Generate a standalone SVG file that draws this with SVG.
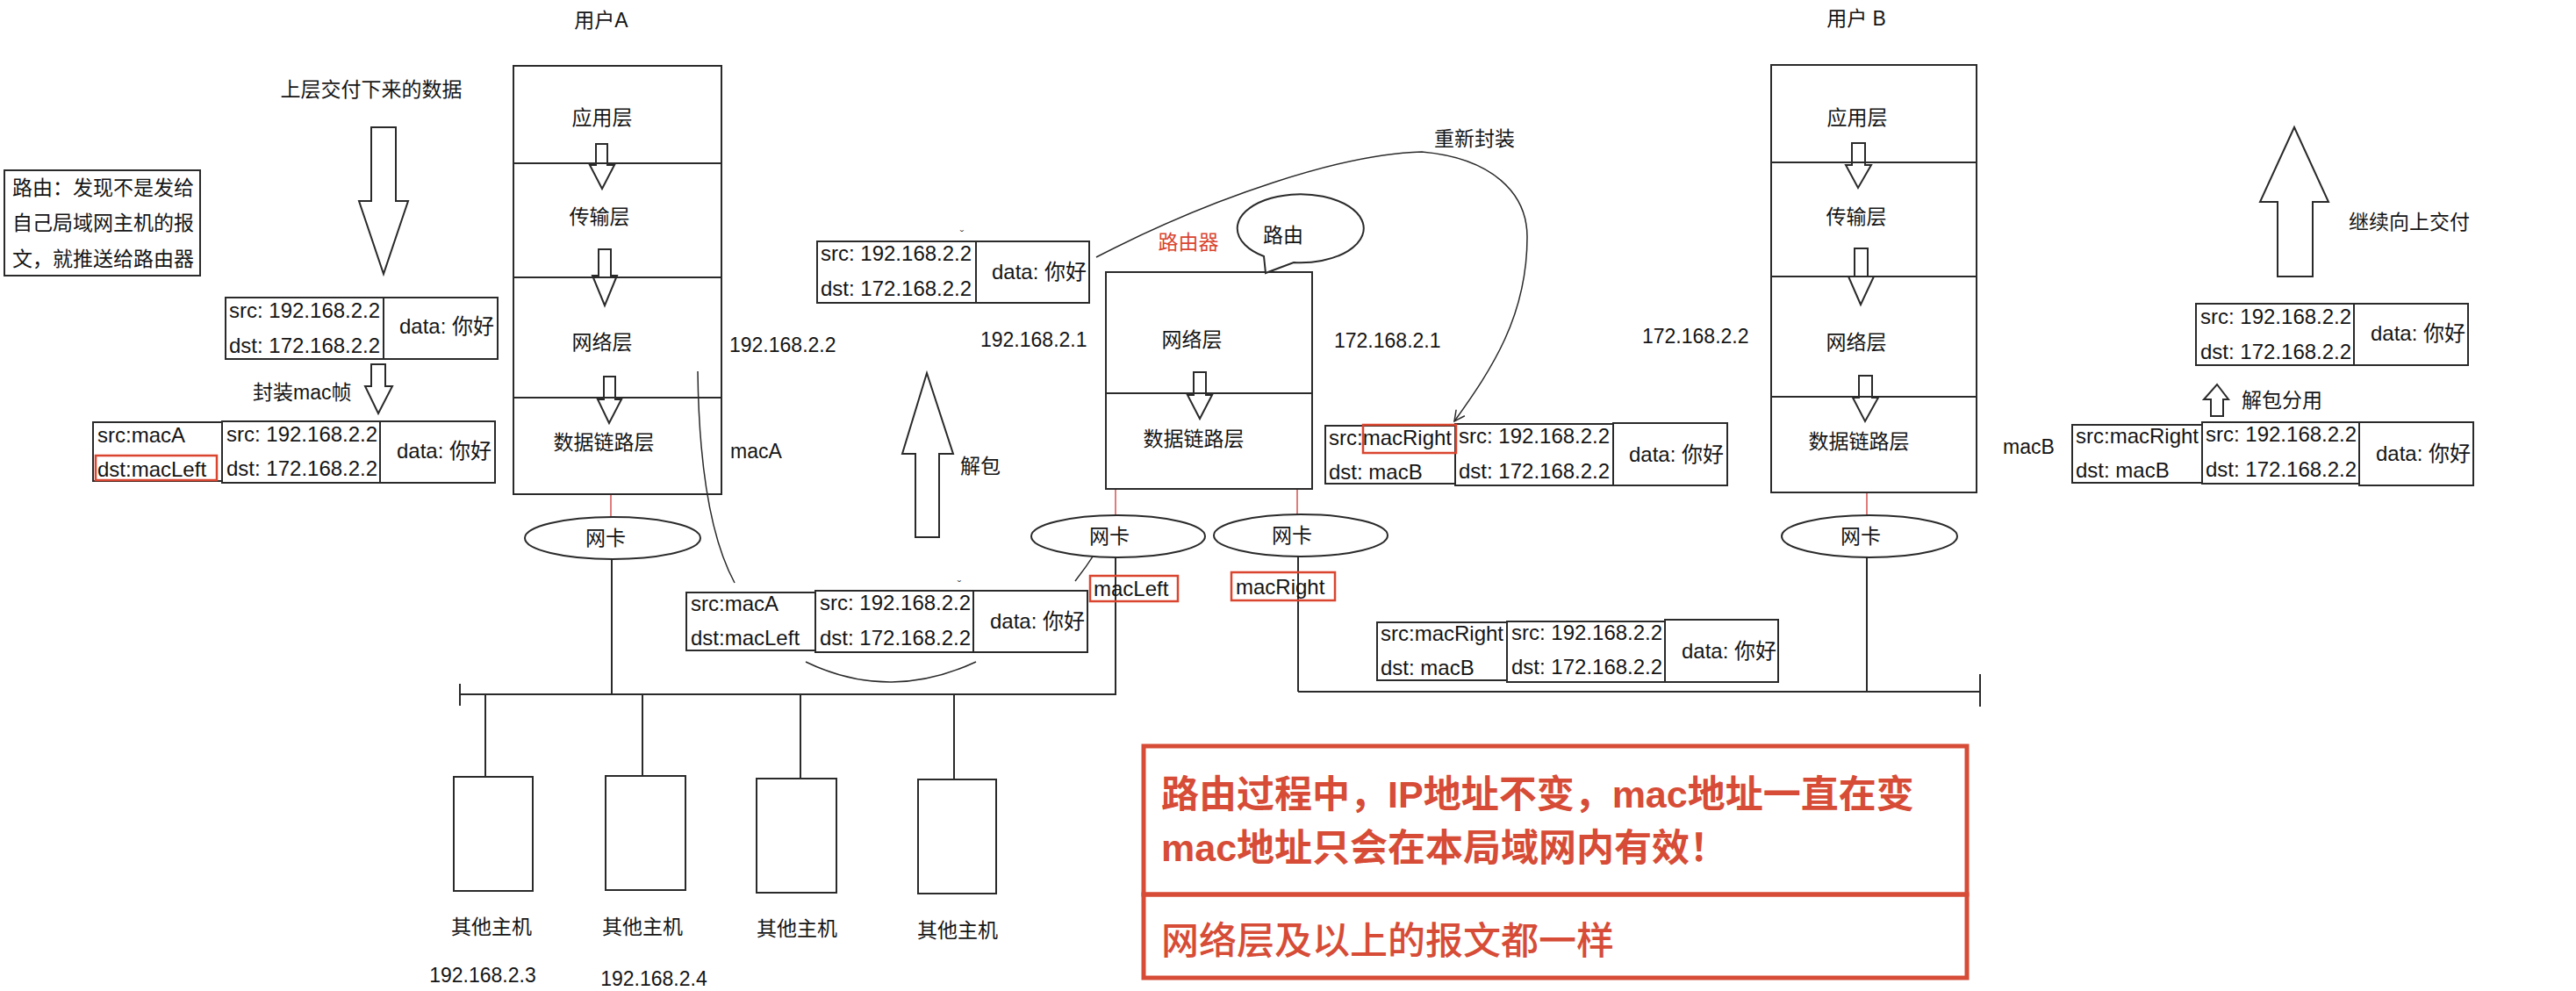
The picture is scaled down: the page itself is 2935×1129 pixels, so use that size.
<svg xmlns="http://www.w3.org/2000/svg" width="2935" height="1129" viewBox="0 0 2935 1129">
<style>
text{font-family:"Liberation Sans","Noto Sans CJK SC",sans-serif;font-size:23px;fill:#151515}
.p{font-size:24px}
.m{text-anchor:middle}
.b{fill:#fff;stroke:#2a2a2a;stroke-width:2}
.n{fill:none;stroke:#2a2a2a;stroke-width:2}
.thin{fill:none;stroke:#2a2a2a;stroke-width:1.5}
.rl{stroke:#d65050;stroke-width:1.5;fill:none}
.rb{fill:none;stroke:#d9452f;stroke-width:2.5}
.rr{fill:none;stroke:#d64c36;stroke-width:5}
.rt{fill:#d9452f}
.big{font-size:43px;fill:#d64c36}
.tiny{font-size:13px;fill:#444}
</style>
<defs>
<marker id="ah" viewBox="-14 -8 16 16" refX="0" refY="0" markerWidth="16" markerHeight="16" markerUnits="userSpaceOnUse" orient="auto">
<path d="M-12,-6 L0,0 L-12,6" fill="none" stroke="#2a2a2a" stroke-width="1.5"/>
</marker>
</defs>
<rect width="2935" height="1129" fill="#fff"/>

<g id="connectors">
<line class="rl" x1="696" y1="563" x2="696" y2="589"/>
<line class="rl" x1="1271" y1="557" x2="1271" y2="587"/>
<line class="rl" x1="1478" y1="557" x2="1478" y2="586"/>
<line class="rl" x1="2127" y1="561" x2="2127" y2="587"/>
<line class="n" x1="697" y1="637" x2="697" y2="791"/>
<line class="n" x1="1271" y1="635" x2="1271" y2="792"/>
<line class="n" x1="1479" y1="634" x2="1479" y2="788"/>
<line class="n" x1="2127" y1="635" x2="2127" y2="788"/>
<line class="n" x1="524" y1="791" x2="1271" y2="791"/>
<line class="n" x1="524" y1="779" x2="524" y2="804"/>
<line class="n" x1="1479" y1="788" x2="2256" y2="788"/>
<line class="n" x1="2256" y1="768" x2="2256" y2="805"/>
<line class="n" x1="553" y1="791" x2="553" y2="885"/>
<line class="n" x1="732" y1="791" x2="732" y2="884"/>
<line class="n" x1="912" y1="791" x2="912" y2="887"/>
<line class="n" x1="1087" y1="791" x2="1087" y2="888"/>
<path class="thin" d="M795,423 Q797,590 837,664"/>
<path class="thin" d="M918,754 Q1013,800 1112,754"/>
<path class="thin" d="M1225,662 Q1250,630 1272,589" marker-end="url(#ah)"/>
<path class="thin" d="M1249,293 C1380,225 1530,175 1620,173 C1700,180 1740,220 1740,270 C1740,360 1700,420 1657,480" marker-end="url(#ah)"/>
</g>

<g id="userA">
<text class="m" x="685" y="31">用户A</text>
<rect class="n" x="585" y="75" width="237" height="488"/>
<path class="n" d="M679,164 H692 V188 H700 L686,215 L672,188 H679 Z"/>
<path class="n" d="M682,284 H696 V314 H703 L689,348 L675,314 H682 Z"/>
<path class="n" d="M688,429 H701 V455 H708 L694,482 L681,455 H688 Z"/>
<line class="n" x1="585" y1="186" x2="822" y2="186"/>
<line class="n" x1="585" y1="316" x2="822" y2="316"/>
<line class="n" x1="585" y1="453" x2="822" y2="453"/>
<text class="m" x="686" y="142">应用层</text>
<text class="m" x="683" y="255">传输层</text>
<text class="m" x="686" y="398">网络层</text>
<text class="m" x="688" y="512">数据链路层</text>
<text x="831" y="401">192.168.2.2</text>
<text x="832" y="522">macA</text>
</g>

<g id="nicA">
<ellipse class="b" cx="698" cy="613" rx="100" ry="24"/>
<text class="m" x="690" y="621">网卡</text>
</g>

<g id="userB">
<text class="m" x="2115" y="29">用户 B</text>
<rect class="n" x="2018" y="74" width="234" height="487"/>
<path class="n" d="M2110,163 H2125 V188 H2132 L2117,214 L2103,188 H2110 Z"/>
<path class="n" d="M2113,283 H2128 V315 H2135 L2120,347 L2106,315 H2113 Z"/>
<path class="n" d="M2118,428 H2133 V453 H2140 L2125,480 L2111,453 H2118 Z"/>
<line class="n" x1="2018" y1="185" x2="2252" y2="185"/>
<line class="n" x1="2018" y1="315" x2="2252" y2="315"/>
<line class="n" x1="2018" y1="452" x2="2252" y2="452"/>
<text class="m" x="2116" y="142">应用层</text>
<text class="m" x="2115" y="255">传输层</text>
<text class="m" x="2115" y="398">网络层</text>
<text class="m" x="2118" y="511">数据链路层</text>
<text x="1871" y="391">172.168.2.2</text>
<text x="2282" y="517">macB</text>
</g>

<g id="nicB">
<ellipse class="b" cx="2130" cy="611" rx="100" ry="24"/>
<text class="m" x="2120" y="619">网卡</text>
</g>

<g id="router">
<text class="m rt" x="1354" y="284">路由器</text>
<rect class="n" x="1260" y="310" width="235" height="247"/>
<path class="n" d="M1360,424 H1374 V450 H1381 L1367,477 L1353,450 H1360 Z"/>
<line class="n" x1="1260" y1="448" x2="1495" y2="448"/>
<text class="m" x="1358" y="395">网络层</text>
<text class="m" x="1360" y="508">数据链路层</text>
<text x="1117" y="395">192.168.2.1</text>
<text x="1520" y="396">172.168.2.1</text>
</g>

<g id="bubble">
<path class="b" d="M1440,292 A72,39 0 1 1 1474,299 L1442,311 Z"/>
<text class="m" x="1462" y="276">路由</text>
</g>

<g id="nicRL">
<ellipse class="b" cx="1274" cy="611" rx="99" ry="24"/>
<text class="m" x="1264" y="619">网卡</text>
</g>
<g id="nicRR">
<ellipse class="b" cx="1482" cy="610" rx="99" ry="24"/>
<text class="m" x="1472" y="618">网卡</text>
</g>

<g id="macLeftLabel">
<rect class="rb" x="1242" y="656" width="100" height="29"/>
<text class="p" x="1246" y="679">macLeft</text>
</g>
<g id="macRightLabel">
<rect class="rb" x="1403" y="652" width="118" height="32"/>
<text class="p" x="1408" y="677">macRight</text>
</g>

<g id="note">
<rect class="n" x="5" y="194" width="223" height="120"/>
<text x="14" y="222">路由：发现不是发给</text>
<text x="14" y="262">自己局域网主机的报</text>
<text x="14" y="303">文，就推送给路由器</text>
</g>

<g id="downArrow">
<text class="m" x="423" y="110">上层交付下来的数据</text>
<path class="n" d="M423,145 H451 V229 H465 L437,312 L409,229 H423 Z"/>
</g>

<g id="packetA">
<rect class="n" x="257" y="339" width="180" height="70"/>
<rect class="n" x="437" y="339" width="130" height="70"/>
<text class="p" x="261" y="362">src: 192.168.2.2</text>
<text class="p" x="261" y="402">dst: 172.168.2.2</text>
<text class="p" x="455" y="380">data: 你好</text>
</g>

<g id="encapArrow">
<path class="n" d="M423,415 H439 V440 H447 L431,471 L416,440 H423 Z"/>
<text x="288" y="455">封装mac帧</text>
</g>

<g id="frameA">
<rect class="n" x="106" y="481" width="147" height="67"/>
<rect class="n" x="253" y="480" width="180" height="70"/>
<rect class="n" x="433" y="480" width="131" height="70"/>
<rect class="rb" x="109" y="519" width="138" height="28"/>
<text class="p" x="111" y="504">src:macA</text>
<text class="p" x="111" y="543">dst:macLeft</text>
<text class="p" x="258" y="503">src: 192.168.2.2</text>
<text class="p" x="258" y="542">dst: 172.168.2.2</text>
<text class="p" x="452" y="522">data: 你好</text>
</g>

<g id="packetR">
<text class="tiny m" x="1096" y="272">ˇ</text>
<rect class="n" x="931" y="275" width="181" height="70"/>
<rect class="n" x="1112" y="275" width="129" height="70"/>
<text class="p" x="935" y="297">src: 192.168.2.2</text>
<text class="p" x="935" y="337">dst: 172.168.2.2</text>
<text class="p" x="1130" y="318">data: 你好</text>
</g>

<g id="unpackArrow">
<path class="n" d="M1043,612 H1070 V517 H1086 L1056,425 L1028,517 H1043 Z"/>
<text x="1094" y="539">解包</text>
</g>

<g id="frameMid">
<text class="tiny m" x="1093" y="671">ˇ</text>
<rect class="n" x="782" y="675" width="147" height="66"/>
<rect class="n" x="929" y="673" width="180" height="70"/>
<rect class="n" x="1109" y="673" width="130" height="70"/>
<text class="p" x="787" y="696">src:macA</text>
<text class="p" x="787" y="735">dst:macLeft</text>
<text class="p" x="934" y="695">src: 192.168.2.2</text>
<text class="p" x="934" y="735">dst: 172.168.2.2</text>
<text class="p" x="1128" y="716">data: 你好</text>
</g>

<g id="frameRouterOut">
<text class="m" x="1680" y="166">重新封装</text>
<rect class="n" x="1510" y="485" width="148" height="66"/>
<rect class="n" x="1658" y="483" width="180" height="70"/>
<rect class="n" x="1838" y="482" width="130" height="71"/>
<rect class="rb" x="1553" y="484" width="106" height="32"/>
<text class="p" x="1514" y="507">src:macRight</text>
<text class="p" x="1514" y="546">dst: macB</text>
<text class="p" x="1662" y="505">src: 192.168.2.2</text>
<text class="p" x="1662" y="545">dst: 172.168.2.2</text>
<text class="p" x="1856" y="526">data: 你好</text>
</g>

<g id="frameBus">
<rect class="n" x="1569" y="709" width="148" height="66"/>
<rect class="n" x="1717" y="708" width="180" height="69"/>
<rect class="n" x="1897" y="706" width="129" height="71"/>
<text class="p" x="1573" y="730">src:macRight</text>
<text class="p" x="1573" y="769">dst: macB</text>
<text class="p" x="1722" y="729">src: 192.168.2.2</text>
<text class="p" x="1722" y="768">dst: 172.168.2.2</text>
<text class="p" x="1916" y="750">data: 你好</text>
</g>

<g id="frameB">
<rect class="n" x="2361" y="484" width="148" height="66"/>
<rect class="n" x="2509" y="481" width="179" height="70"/>
<rect class="n" x="2688" y="481" width="130" height="72"/>
<text class="p" x="2365" y="505">src:macRight</text>
<text class="p" x="2365" y="544">dst: macB</text>
<text class="p" x="2513" y="503">src: 192.168.2.2</text>
<text class="p" x="2513" y="543">dst: 172.168.2.2</text>
<text class="p" x="2707" y="525">data: 你好</text>
</g>

<g id="demuxArrow">
<path class="n" d="M2519,474 H2533 V455 H2539 L2526,438 L2511,455 H2519 Z"/>
<text x="2554" y="464">解包分用</text>
</g>

<g id="packetB">
<rect class="n" x="2502" y="346" width="180" height="70"/>
<rect class="n" x="2682" y="346" width="130" height="70"/>
<text class="p" x="2507" y="369">src: 192.168.2.2</text>
<text class="p" x="2507" y="409">dst: 172.168.2.2</text>
<text class="p" x="2701" y="388">data: 你好</text>
</g>

<g id="upArrow">
<path class="n" d="M2595,315 H2635 V230 H2653 L2614,145 L2575,230 H2595 Z"/>
<text x="2676" y="261">继续向上交付</text>
</g>

<g id="hosts">
<rect class="n" x="517" y="885" width="90" height="130"/>
<rect class="n" x="690" y="884" width="91" height="130"/>
<rect class="n" x="862" y="887" width="91" height="130"/>
<rect class="n" x="1046" y="888" width="89" height="130"/>
<text class="m" x="560" y="1064">其他主机</text>
<text class="m" x="732" y="1064">其他主机</text>
<text class="m" x="908" y="1066">其他主机</text>
<text class="m" x="1091" y="1068">其他主机</text>
<text class="m" x="550" y="1119">192.168.2.3</text>
<text class="m" x="745" y="1123">192.168.2.4</text>
</g>

<g id="summary">
<rect class="rr" x="1303" y="850" width="938" height="169"/>
<rect class="rr" x="1303" y="1019" width="938" height="95"/>
<text class="big" x="1323" y="920" font-weight="bold">路由过程中，IP地址不变，mac地址一直在变</text>
<text class="big" x="1323" y="981" font-weight="bold">mac地址只会在本局域网内有效！</text>
<text class="big" x="1323" y="1087" font-weight="500">网络层及以上的报文都一样</text>
</g>
</svg>
